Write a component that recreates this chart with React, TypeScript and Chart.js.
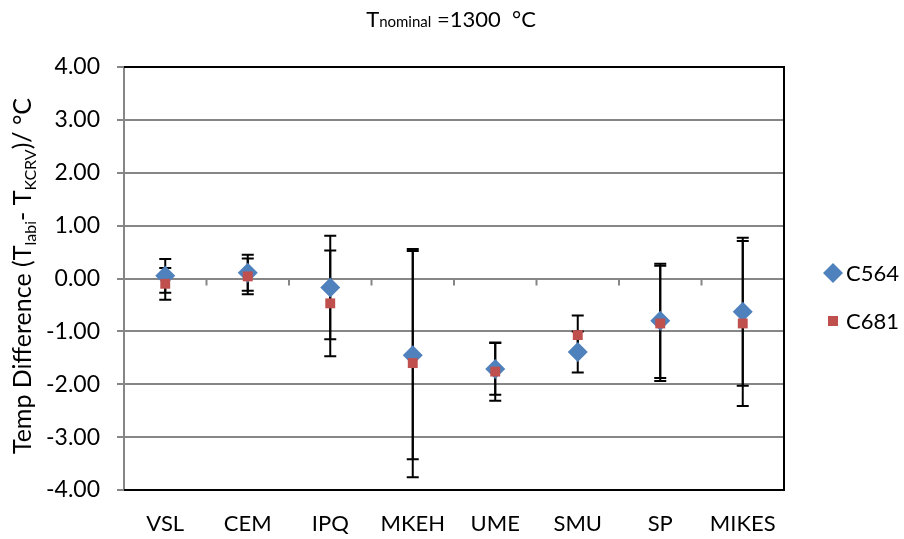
import React, { useEffect, useRef } from "react";
import { Chart, registerables } from "chart.js";

Chart.register(...registerables);

const categories = ["VSL", "CEM", "IPQ", "MKEH", "UME", "SMU", "SP", "MIKES"];
const c564Values = [0.05, 0.11, -0.17, -1.45, -1.71, -1.39, -0.8, -0.63];
const c564Errors = [0.32, 0.34, 0.98, 1.97, 0.49, 0.39, 1.08, 1.4];
const c681Values = [-0.1, 0.04, -0.47, -1.6, -1.76, -1.07, -0.85, -0.85];
const c681Errors = [0.3, 0.34, 1.0, 2.16, 0.55, 0.37, 1.09, 1.56];
const yTicks = [-4, -3, -2, -1, 0, 1, 2, 3, 4];

const seriesNames = ["C564", "C681"];
const seriesColors = ["#4F81BD", "#C0504D"];
const FONT = "Lato, 'Open Sans', sans-serif";

const customPlugin = {
  id: "custom",
  beforeDatasetsDraw(chart: any) {
    const { ctx, chartArea, scales } = chart;
    const x = scales.x;
    const y = scales.y;
    ctx.save();
    const y0 = y.getPixelForValue(0);
    ctx.strokeStyle = "#868686";
    ctx.lineWidth = 2;
    for (let i = 1; i < categories.length; i++) {
      const xp = (x.getPixelForValue(i - 1) + x.getPixelForValue(i)) / 2;
      ctx.beginPath();
      ctx.moveTo(xp, y0);
      ctx.lineTo(xp, y0 + 7);
      ctx.stroke();
    }
    ctx.strokeStyle = "#000000";
    ctx.lineWidth = 2;
    ctx.beginPath();
    ctx.moveTo(chartArea.left, chartArea.top);
    ctx.lineTo(chartArea.right, chartArea.top);
    ctx.lineTo(chartArea.right, chartArea.bottom);
    ctx.lineTo(chartArea.left, chartArea.bottom);
    ctx.stroke();
    const sets = [
      [c564Values, c564Errors],
      [c681Values, c681Errors],
    ];
    ctx.strokeStyle = "#000000";
    ctx.lineWidth = 2;
    sets.forEach(([vals, errs]) => {
      vals.forEach((v: number, j: number) => {
        const xp = x.getPixelForValue(j);
        const yt = y.getPixelForValue(v + errs[j]);
        const yb = y.getPixelForValue(v - errs[j]);
        ctx.beginPath();
        ctx.moveTo(xp, yt);
        ctx.lineTo(xp, yb);
        ctx.moveTo(xp - 6, yt);
        ctx.lineTo(xp + 6, yt);
        ctx.moveTo(xp - 6, yb);
        ctx.lineTo(xp + 6, yb);
        ctx.stroke();
      });
    });
    ctx.restore();
  },
  afterDraw(chart: any) {
    const { ctx } = chart;
    ctx.save();
    ctx.fillStyle = "#000000";
    ctx.textBaseline = "alphabetic";
    const big = `22px ${FONT}`;
    const small = `15px ${FONT}`;
    const parts: [string, string][] = [
      ["T", big],
      ["nominal", small],
      [" =1300  °C", big],
    ];
    let w = 0;
    parts.forEach(([t, f]) => {
      ctx.font = f;
      w += ctx.measureText(t).width;
    });
    let xx = 451 - w / 2;
    const base = 27;
    parts.forEach(([t, f]) => {
      ctx.font = f;
      ctx.fillText(t, xx, base);
      xx += ctx.measureText(t).width;
    });
    ctx.translate(31, 276);
    ctx.rotate(-Math.PI / 2);
    const yparts: [string, string, number][] = [
      ["Temp Difference (T", `25px ${FONT}`, 0],
      ["labi", `16px ${FONT}`, 5],
      ["- T", `25px ${FONT}`, 0],
      ["KCRV", `16px ${FONT}`, 5],
      [")/ °C", `25px ${FONT}`, 0],
    ];
    let yw = 0;
    yparts.forEach(([t, f]) => {
      ctx.font = f;
      yw += ctx.measureText(t).width;
    });
    let yx = -yw / 2;
    yparts.forEach(([t, f, dy]) => {
      ctx.font = f;
      ctx.fillText(t, yx, dy);
      yx += ctx.measureText(t).width;
    });
    ctx.restore();
    ctx.save();
    ctx.font = `22px ${FONT}`;
    ctx.textBaseline = "middle";
    ctx.fillStyle = seriesColors[0];
    ctx.beginPath();
    ctx.moveTo(833, 263);
    ctx.lineTo(843, 273);
    ctx.lineTo(833, 283);
    ctx.lineTo(823, 273);
    ctx.closePath();
    ctx.fill();
    ctx.fillStyle = seriesColors[1];
    ctx.fillRect(828, 316, 10, 10);
    ctx.fillStyle = "#000000";
    ctx.fillText(seriesNames[0], 846, 274);
    ctx.fillText(seriesNames[1], 846, 322);
    ctx.restore();
  },
};

export default function App() {
  const ref = useRef<HTMLCanvasElement | null>(null);
  useEffect(() => {
    document.body.style.margin = "0";
    const chart = new Chart(ref.current as HTMLCanvasElement, {
      type: "line",
      data: {
        labels: categories,
        datasets: [
          {
            label: seriesNames[0],
            data: c564Values,
            showLine: false,
            pointStyle: "rectRot",
            pointRadius: 10,
            pointBackgroundColor: seriesColors[0],
            pointBorderWidth: 0,
            borderColor: seriesColors[0],
            order: 1,
          },
          {
            label: seriesNames[1],
            data: c681Values,
            showLine: false,
            pointStyle: "rect",
            pointRadius: 7,
            pointBackgroundColor: seriesColors[1],
            pointBorderWidth: 0,
            borderColor: seriesColors[1],
            order: 0,
          },
        ],
      },
      options: {
        animation: false,
        responsive: false,
        layout: { padding: { top: 67, right: 120, left: 0, bottom: 0 } },
        plugins: {
          legend: { display: false },
          title: { display: false },
          tooltip: { enabled: false },
        },
        scales: {
          x: {
            type: "category",
            offset: true,
            grid: { display: false, drawTicks: false },
            border: { display: false },
            ticks: {
              color: "#000000",
              font: { family: FONT, size: 22 },
              padding: 21,
              maxRotation: 0,
            },
            afterFit(scale: any) {
              scale.height = 49;
            },
          },
          y: {
            min: -4,
            max: 4,
            afterBuildTicks(scale: any) {
              scale.ticks = yTicks.map((v) => ({ value: v }));
            },
            grid: {
              color: "#868686",
              lineWidth: 2,
              tickLength: 7,
              tickColor: "#868686",
            },
            border: { color: "#868686", width: 2 },
            ticks: {
              color: "#000000",
              font: { family: FONT, size: 23 },
              padding: 17,
              callback: (v: any) => Number(v).toFixed(2),
            },
            afterFit(scale: any) {
              scale.width = 124;
            },
          },
        },
      },
      plugins: [customPlugin],
    } as any);
    return () => chart.destroy();
  }, []);
  return (
    <div style={{ width: 904, height: 539 }}>
      <canvas ref={ref} width={904} height={539} style={{ width: 904, height: 539 }} />
    </div>
  );
}
